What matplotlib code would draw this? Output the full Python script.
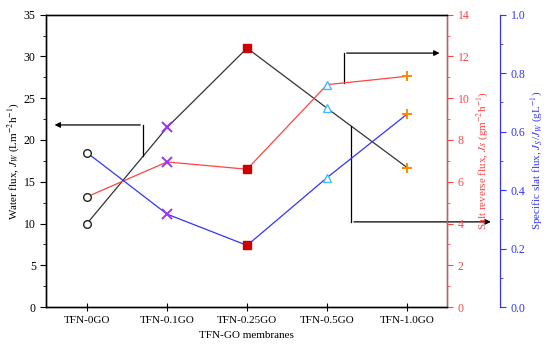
import numpy as np
import matplotlib
matplotlib.use("Agg")
from matplotlib import pyplot as plt
from matplotlib.ticker import MultipleLocator

plt.rcParams['font.family'] = ['Liberation Serif', 'DejaVu Serif']
plt.rcParams['mathtext.fontset'] = 'stix'

membranes = ["TFN-0GO", "TFN-0.1GO", "TFN-0.25GO", "TFN-0.5GO", "TFN-1.0GO"]
water_flux = [10.0, 21.5, 31.0, 23.8, 16.7]
salt_flux = [5.28, 6.95, 6.6, 10.65, 11.05]
specific_flux = [0.528, 0.318, 0.211, 0.443, 0.66]

markers = ["o", "x", "s", "^", "+"]
mcolors = ["#222222", "#9933FF", "#CC0000", "#44BBFF", "#FF8800"]
mfill = ["none", None, "#CC0000", "none", None]

RED = "#FF4444"
BLUE = "#3333FF"

fig, ax = plt.subplots(figsize=(5.5, 3.49), dpi=100)
fig.subplots_adjust(left=0.084, right=0.813, top=0.958, bottom=0.12)
x = np.arange(len(membranes))

ax_r = ax.twinx()
ax_b = ax.twinx()
ax_b.spines['right'].set_position(('axes', 1.132))


def draw(a, vals, lc):
    a.plot(x, vals, color=lc, lw=0.9, zorder=2)
    for i in range(len(vals)):
        if markers[i] in ("x", "+"):
            a.plot(x[i], vals[i], marker=markers[i], color=mcolors[i], ms=6.5,
                   mew=1.4, ls="none", zorder=3)
        elif mfill[i] == "none":
            a.plot(x[i], vals[i], marker=markers[i], mfc="white", mec=mcolors[i],
                   ms=6 if markers[i] == "^" else 5.5, mew=1.0, ls="none", zorder=3)
        else:
            a.plot(x[i], vals[i], marker=markers[i], color=mcolors[i], ms=5.5,
                   ls="none", zorder=3)


draw(ax, water_flux, "#333333")
draw(ax_r, salt_flux, RED)
draw(ax_b, specific_flux, BLUE)

ax.set_xlim(-0.51, 4.5)
ax.set_ylim(0, 35)
ax_r.set_ylim(0, 14)
ax_b.set_ylim(0, 1.0)

ax.set_xticks(x)
ax.set_xticklabels(membranes, fontsize=8)
ax.tick_params(axis='x', direction='inout', length=6)
ax.set_xlabel("TFN-GO membranes", fontsize=8)

ax.yaxis.set_major_locator(MultipleLocator(5))
ax.yaxis.set_minor_locator(MultipleLocator(2.5))
ax.tick_params(axis='y', labelsize=8.5, length=4)
ax.tick_params(axis='y', which='minor', length=2)
ax.set_ylabel("Water flux, $J_W$ (Lm$^{-2}$h$^{-1}$)", fontsize=8, labelpad=2)

ax_r.yaxis.set_major_locator(MultipleLocator(2))
ax_r.yaxis.set_minor_locator(MultipleLocator(1))
ax_r.tick_params(axis='y', colors=RED, labelsize=8.5, length=4)
ax_r.tick_params(axis='y', which='minor', colors=RED, length=2)
ax_r.spines['right'].set_color(RED)
ax_r.set_ylabel("Salt reverse flux, $Js$ (gm$^{-2}$h$^{-1}$)", color=RED,
                fontsize=8, labelpad=3)

ax_b.yaxis.set_major_locator(MultipleLocator(0.2))
ax_b.yaxis.set_minor_locator(MultipleLocator(0.1))
ax_b.tick_params(axis='y', colors=BLUE, labelsize=8.5, length=4)
ax_b.tick_params(axis='y', which='minor', colors=BLUE, length=2)
ax_b.spines['right'].set_color(BLUE)
ax_b.set_ylabel("Specific slat flux, $J_S$/$J_W$ (gL$^{-1}$)", color=BLUE,
                fontsize=8, labelpad=3)

for a in (ax, ax_r, ax_b):
    for s in a.spines.values():
        s.set_linewidth(0.9)
ax.spines['top'].set_color("#333333")

# arrows pointing each line to its axis
arr = dict(arrowstyle="-|>", color="black", lw=0.9, mutation_scale=8)


def bend_arrow(xv, y_start, y_turn, x_end):
    ax.plot([xv, xv], [y_start, y_turn], color="black", lw=0.9, clip_on=False)
    ax.annotate("", xy=(x_end, y_turn), xytext=(xv, y_turn),
                arrowprops=arr, annotation_clip=False)


xa = 0.70
bend_arrow(xa, np.interp(xa, x, water_flux), 21.8, -0.44)
xb = 3.21
bend_arrow(xb, np.interp(xb, x, salt_flux) * 35 / 14, 30.4, 4.44)
xc = 3.30
bend_arrow(xc, np.interp(xc, x, water_flux), 10.2, 5.08)

plt.savefig("out.png", dpi=100)
plt.close()
